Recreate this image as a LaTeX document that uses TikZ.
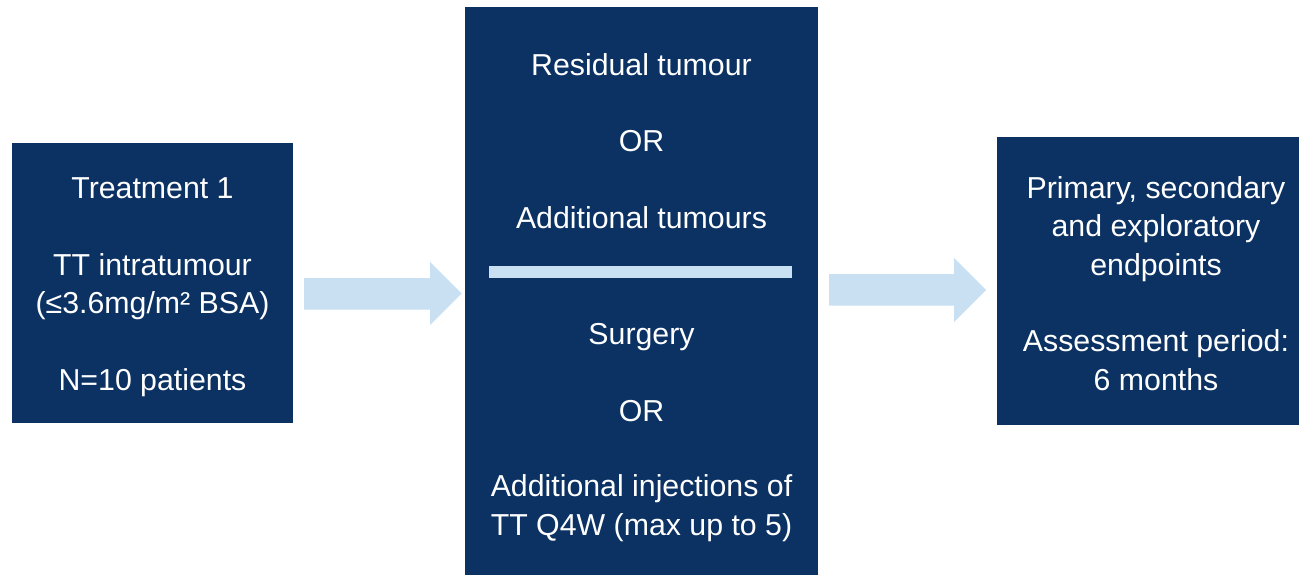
\documentclass[tikz,border=0pt]{standalone}
\usepackage{fontspec}
\setmainfont{Liberation Sans}
\definecolor{navy}{RGB}{11,50,99}
\definecolor{paleblue}{RGB}{201,224,243}
\begin{document}
\begin{tikzpicture}[x=1pt,y=-1pt,
  box/.style={fill=navy,draw=none,inner sep=0pt},
  txt/.style={text=white,align=center,anchor=north,inner sep=0pt,
              font=\fontsize{30.3}{38.3}\selectfont},
  blockarrow/.style={fill=paleblue,draw=none}]
\useasboundingbox (0,0) rectangle (1299,574);
\clip (0,0) rectangle (1299,574);
\fill[white] (0,0) rectangle (1299,574);
% boxes
\node[box,minimum width=281pt,minimum height=280pt] (b1) at (152.5,283) {};
\node[box,minimum width=353pt,minimum height=580pt] (b2) at (641.5,297.3) {};
\node[box,minimum width=319pt,minimum height=288pt] (b3) at (1156.5,281) {};
\node[fill=paleblue,inner sep=0pt,minimum width=303pt,minimum height=12.3pt] (bar) at (640.7,272.2) {};
% texts
\node[txt] (t1) at (152.5,173.3) {\rule{0pt}{25pt}Treatment 1\\[38.8pt]TT intratumour\\(≤3.6mg/m²~BSA)\\[38.3pt]N=10 patients};
\node[txt] (t2) at (641.5,50) {\rule{0pt}{25pt}Residual tumour\\[38.4pt]OR\\[38.4pt]Additional tumours};
\node[txt] (t3) at (641.5,319.7) {\rule{0pt}{25pt}Surgery\\[38.4pt]OR\\[37pt]Additional injections of\\TT Q4W (max up to 5)};
\node[txt] (t4) at (1156,173.3) {\rule{0pt}{25pt}Primary, secondary\\and exploratory\\endpoints\\[38.3pt]Assessment period:\\6 months};
% block arrows
\coordinate (a1s) at (304,293.5);
\coordinate (a1e) at (461.7,293.5);
\fill[blockarrow] (a1s |- 0,278) -- (430,278) -- (430,262) -- (a1e) -- (430,325) -- (430,309.5) -- (a1s |- 0,309.5) -- cycle;
\coordinate (a2s) at (829,290);
\coordinate (a2e) at (986,290);
\fill[blockarrow] (a2s |- 0,274) -- (954,274) -- (954,258) -- (a2e) -- (954,322) -- (954,305.7) -- (a2s |- 0,305.7) -- cycle;
\end{tikzpicture}
\end{document}
